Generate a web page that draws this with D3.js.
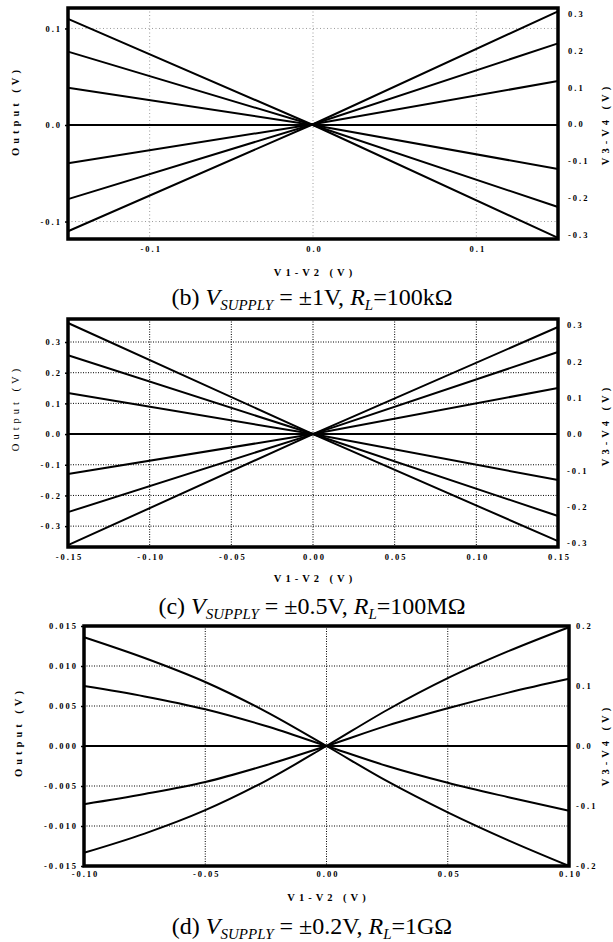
<!DOCTYPE html>
<html><head><meta charset="utf-8">
<script src="https://cdn.jsdelivr.net/npm/d3@7"></script>
<style>
body{margin:0;background:#fff;}
svg{display:block;}
.tick text{font-family:"Liberation Serif","Times New Roman",serif;font-weight:bold;font-size:8.5px;letter-spacing:2px;fill:#000;}
.title{font-family:"Liberation Serif","Times New Roman",serif;font-weight:bold;font-size:10.5px;letter-spacing:4px;fill:#000;}
.cap{font-family:"Liberation Serif","Times New Roman",serif;font-size:24px;fill:#000;}
</style></head>
<body><svg id="c" width="613" height="942"></svg>
<script>
// ---------- DATA ----------
// Panel (b): V_SUPPLY = ±1V, R_L = 100kΩ
const bX = [-0.15, 0, 0.15];
const bOutput = [[0.110, 0, -0.117], [0.076, 0, -0.085], [0.0387, 0, -0.0456]];
const bV34 = [[-0.290, 0, 0.306], [-0.203, 0, 0.219], [-0.106, 0, 0.117]];
const bXTicks = [-0.1, 0, 0.1];
const bLeftTicks = [-0.1, 0, 0.1];
const bRightTicks = [-0.3, -0.2, -0.1, 0, 0.1, 0.2, 0.3];

// Panel (c): V_SUPPLY = ±0.5V, R_L = 100MΩ
const cX = [-0.15, 0, 0.15];
const cOutput = [[0.362, 0, -0.349], [0.257, 0, -0.267], [0.134, 0, -0.150]];
const cV34 = [[-0.306, 0, 0.295], [-0.215, 0, 0.226], [-0.110, 0, 0.127]];
const cXTicks = [-0.15, -0.10, -0.05, 0, 0.05, 0.10, 0.15];
const cLeftTicks = [-0.3, -0.2, -0.1, 0, 0.1, 0.2, 0.3];
const cRightTicks = [-0.3, -0.2, -0.1, 0, 0.1, 0.2, 0.3];

// Panel (d): V_SUPPLY = ±0.2V, R_L = 1GΩ
const dX = [-0.1, -0.075, -0.05, -0.025, 0, 0.025, 0.05, 0.075, 0.1];
const dOutput = [
  [0.0136, 0.0110, 0.0080, 0.0043, 0, -0.0044, -0.0083, -0.0118, -0.0150],
  [0.0075, 0.0062, 0.0046, 0.0025, 0, -0.0025, -0.0046, -0.0064, -0.0081]
];
const dV34 = [
  [-0.178, -0.146, -0.107, -0.058, 0, 0.060, 0.113, 0.158, 0.198],
  [-0.097, -0.080, -0.060, -0.032, 0, 0.034, 0.063, 0.089, 0.112]
];
const dXTicks = [-0.10, -0.05, 0, 0.05, 0.10];
const dLeftTicks = [-0.015, -0.010, -0.005, 0, 0.005, 0.010, 0.015];
const dRightTicks = [-0.2, -0.1, 0, 0.1, 0.2];

const captions = [
  {label:"(b) ", supply:"±1V", rl:"100kΩ"},
  {label:"(c) ", supply:"±0.5V", rl:"100MΩ"},
  {label:"(d) ", supply:"±0.2V", rl:"1GΩ"}
];

// ---------- DRAW ----------
const svg = d3.select("#c");

function panel(cfg){
  const g = svg.append("g");
  const x = d3.scaleLinear().domain(cfg.xDom).range([cfg.x0, cfg.x1]);
  const yL = d3.scaleLinear().domain(cfg.lDom).range([cfg.y1, cfg.y0]);
  const yR = d3.scaleLinear().domain(cfg.rDom).range([cfg.y1, cfg.y0]);

  // grid
  const gridStyle = s => s.attr("stroke", cfg.gridColor).attr("stroke-width", 1)
      .attr("stroke-dasharray", cfg.gridDash).attr("fill","none");
  g.append("g").selectAll("line").data(cfg.xTicks.filter(v => x(v) > cfg.x0 + 2 && x(v) < cfg.x1 - 2))
    .join("line").attr("x1", d=>x(d)).attr("x2", d=>x(d)).attr("y1", cfg.y0).attr("y2", cfg.y1).call(gridStyle);
  g.append("g").selectAll("line").data(cfg.lTicks.filter(v => v !== 0 && yL(v) > cfg.y0 + 2 && yL(v) < cfg.y1 - 2))
    .join("line").attr("y1", d=>yL(d)).attr("y2", d=>yL(d)).attr("x1", cfg.x0).attr("x2", cfg.x1).call(gridStyle);

  // zero line
  g.append("line").attr("x1", cfg.x0).attr("x2", cfg.x1).attr("y1", yL(0)).attr("y2", yL(0))
    .attr("stroke","#000").attr("stroke-width",2);

  const curve = cfg.curve || d3.curveLinear;
  const lineL = d3.line().x((d,i)=>x(cfg.xs[i])).y(d=>yL(d)).curve(curve);
  const lineR = d3.line().x((d,i)=>x(cfg.xs[i])).y(d=>yR(d)).curve(curve);
  g.append("g").selectAll("path").data(cfg.out).join("path").attr("d", lineL)
    .attr("fill","none").attr("stroke","#000").attr("stroke-width",2);
  g.append("g").selectAll("path").data(cfg.v34).join("path").attr("d", lineR)
    .attr("fill","none").attr("stroke","#000").attr("stroke-width",2);

  // axes
  const ax = g.append("g").attr("transform", `translate(0,${cfg.y1})`)
    .call(d3.axisBottom(x).tickValues(cfg.xTicks).tickSize(0).tickPadding(cfg.xPad).tickFormat(d=>d.toFixed(cfg.xDec)));
  ax.select(".domain").remove();
  ax.selectAll("text").attr("dx", "1px").attr("fill","#000");

  const al = g.append("g").attr("transform", `translate(${cfg.x0},0)`)
    .call(d3.axisLeft(yL).tickValues(cfg.lTicks).tickSize(3).tickPadding(cfg.lPad).tickFormat(d=>d.toFixed(cfg.lDec)));
  al.select(".domain").remove();
  al.selectAll("line").attr("stroke","#000").attr("stroke-width",1.5);
  al.selectAll("text").attr("fill","#000");

  const ar = g.append("g").attr("transform", `translate(${cfg.x1},0)`)
    .call(d3.axisRight(yR).tickValues(cfg.rTicks).tickSize(0).tickPadding(cfg.rPad).tickFormat(d=>d.toFixed(cfg.rDec)));
  ar.select(".domain").remove();
  ar.selectAll("text").attr("fill","#000");

  // border
  g.append("rect").attr("x", cfg.x0).attr("y", cfg.y0).attr("width", cfg.x1-cfg.x0).attr("height", cfg.y1-cfg.y0)
    .attr("fill","none").attr("stroke","#000").attr("stroke-width",3.5);

  // titles
  g.append("text").attr("class","title").attr("text-anchor","middle")
    .attr("transform", `translate(${(cfg.x0+cfg.x1)/2 + 2},${cfg.xTitleY}) `).attr("dy","0.35em").text("V1-V2 (V)");
  g.append("text").attr("class","title").attr("text-anchor","middle")
    .style("font-weight", cfg.leftTitleWeight)
    .attr("transform", `translate(${cfg.lTitleX},${cfg.lTitleY}) rotate(-90)`).attr("dy","0.35em").text("Output (V)");
  g.append("text").attr("class","title").attr("text-anchor","middle")
    .attr("transform", `translate(${cfg.rTitleX},${cfg.rTitleY}) rotate(-90)`).attr("dy","0.35em").text("V3-V4 (V)");

  // caption
  const c = cfg.cap;
  const t = g.append("text").attr("class","cap").attr("x", cfg.capX).attr("y", cfg.capY).attr("text-anchor","middle");
  t.append("tspan").text(c.label);
  t.append("tspan").style("font-style","italic").text("V");
  t.append("tspan").style("font-style","italic").style("font-size","15px").attr("dy", 5).text("SUPPLY");
  t.append("tspan").attr("dy", -5).text(" = " + c.supply + ", ");
  t.append("tspan").style("font-style","italic").text("R");
  t.append("tspan").style("font-style","italic").style("font-size","15px").attr("dy", 5).text("L");
  t.append("tspan").attr("dy", -5).text("=" + c.rl);
}

panel({x0:68, x1:558, y0:8, y1:239, xDom:[-0.15,0.15], lDom:[-0.1181,0.1212], rDom:[-0.311,0.315],
  xs:bX, out:bOutput, v34:bV34, xTicks:bXTicks, lTicks:bLeftTicks, rTicks:bRightTicks,
  xDec:1, lDec:1, rDec:1, xPad:7, lPad:3, rPad:10, gridColor:"#9a9a9a", gridDash:"1,2.5",
  xTitleY:272, lTitleX:15, lTitleY:111, rTitleX:605, rTitleY:124, leftTitleWeight:"bold",
  cap:captions[0], capX:312, capY:305});

panel({x0:68, x1:558, y0:319, y1:547, xDom:[-0.15,0.15], lDom:[-0.368,0.375], rDom:[-0.311,0.317],
  xs:cX, out:cOutput, v34:cV34, xTicks:cXTicks, lTicks:cLeftTicks, rTicks:cRightTicks,
  xDec:2, lDec:1, rDec:1, xPad:7, lPad:3, rPad:9, gridColor:"#000", gridDash:"1,1.5",
  xTitleY:578, lTitleX:15, lTitleY:408, rTitleX:605, rTitleY:425, leftTitleWeight:"normal",
  cap:captions[1], capX:312, capY:614});

panel({x0:84, x1:569, y0:626, y1:866, xDom:[-0.1,0.1], lDom:[-0.015,0.015], rDom:[-0.2,0.2],
  xs:dX, out:dOutput, v34:dV34, xTicks:dXTicks, lTicks:dLeftTicks, rTicks:dRightTicks,
  xDec:2, lDec:3, rDec:1, xPad:5, lPad:3, rPad:7, gridColor:"#000", gridDash:"1,1.5",
  xTitleY:897, lTitleX:18, lTitleY:732, rTitleX:605, rTitleY:745, leftTitleWeight:"bold",
  cap:captions[2], capX:312, capY:934, curve:d3.curveMonotoneX});
</script>
</body></html>
